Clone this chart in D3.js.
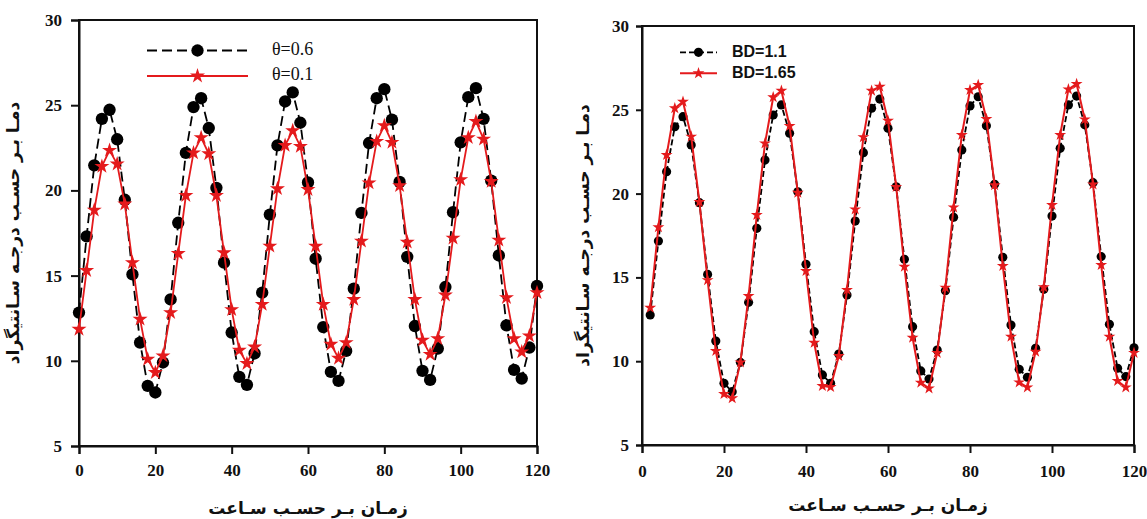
<!DOCTYPE html>
<html>
<head>
<meta charset="utf-8">
<script src="https://cdn.jsdelivr.net/npm/d3@7"></script>
<style>
  html, body { margin: 0; padding: 0; background: #fff; }
  svg { display: block; }
</style>
</head>
<body>
<svg id="chart" width="1147" height="519"></svg>
<script>
// Time axis (hours)
const hoursA = [0,2,4,6,8,10,12,14,16,18,20,22,24,26,28,30,32,34,36,38,40,42,44,46,48,50,52,54,56,58,60,
  62,64,66,68,70,72,74,76,78,80,82,84,86,88,90,92,94,96,98,100,102,104,106,108,110,112,114,116,118,120];
const hoursB = [2,4,6,8,10,12,14,16,18,20,22,24,26,28,30,32,34,36,38,40,42,44,46,48,50,52,54,56,58,60,
  62,64,66,68,70,72,74,76,78,80,82,84,86,88,90,92,94,96,98,100,102,104,106,108,110,112,114,116,118,120];

// Left panel: temperature for two theta values
const theta06 = [12.83,17.3,21.47,24.2,24.73,23.0,19.45,15.07,11.07,8.53,8.14,9.9,13.6,18.1,22.2,24.89,25.41,23.66,20.15,
  15.76,11.66,9.06,8.59,10.43,14.0,18.58,22.64,25.22,25.75,23.97,20.47,15.99,11.98,9.35,8.82,10.58,14.23,18.68,22.78,
  25.41,25.94,24.15,20.5,16.1,12.04,9.41,8.88,10.72,14.33,18.72,22.82,25.47,26.0,24.2,20.57,16.18,12.08,9.47,8.96,10.78,14.39];
const theta01 = [11.85,15.3,18.84,21.41,22.35,21.55,19.2,15.76,12.44,10.09,9.31,10.29,12.83,16.3,19.7,22.2,23.1,22.15,19.7,
  16.34,13.0,10.62,9.84,10.81,13.31,16.73,20.1,22.64,23.5,22.58,20.05,16.73,13.31,10.97,10.15,11.07,13.6,17.02,20.44,
  22.88,23.8,22.82,20.28,16.96,13.6,11.21,10.38,11.3,13.86,17.2,20.63,23.1,24.05,23.01,20.53,17.08,13.71,11.3,10.52,11.46,14.0];

// Right panel: temperature for two bulk densities
const bd110 = [12.76,17.17,21.31,23.99,24.59,22.9,19.46,15.18,11.2,8.68,8.18,9.93,13.51,17.93,22.0,24.69,25.29,23.6,20.11,
  15.78,11.76,9.18,8.68,10.43,13.95,18.36,22.44,25.09,25.64,23.9,20.41,16.08,12.06,9.42,8.94,10.67,14.21,18.59,22.6,
  25.23,25.78,24.05,20.56,16.2,12.16,9.52,9.04,10.77,14.29,18.66,22.7,25.29,25.82,24.1,20.65,16.24,12.2,9.58,9.08,10.8];
const bd165 = [13.19,17.99,22.3,25.09,25.48,23.4,19.5,14.84,10.61,8.04,7.79,9.93,13.89,18.72,23.0,25.75,26.14,24.03,20.05,
  15.38,11.1,8.52,8.46,10.31,14.25,19.06,23.37,26.14,26.38,24.35,20.4,15.64,11.4,8.72,8.38,10.5,14.39,19.18,23.5,
  26.18,26.48,24.45,20.5,15.68,11.46,8.74,8.44,10.57,14.41,19.32,23.5,26.22,26.54,24.43,20.55,15.74,11.46,8.82,8.44,10.5];

const xTicks = [0,20,40,60,80,100,120];
const yTicks = [5,10,15,20,25,30];
const xTitle = "زمـان بـر حسـب سـاعت";
const yTitle = "دمـا بـر حسـب درجـه سـانتیگراد";

const serif = '"Liberation Serif", "Times New Roman", serif';
const arabicFont = '"DejaVu Sans", "Noto Sans", sans-serif';

const svg = d3.select("#chart");

function drawPanel(p) {
  const x = d3.scaleLinear().domain([0, 120]).range([p.left, p.right]);
  const y = d3.scaleLinear().domain([5, 30]).range([p.bottom, p.top]);
  const g = svg.append("g");

  // frame
  g.append("rect")
    .attr("x", p.left).attr("y", p.top)
    .attr("width", p.right - p.left).attr("height", p.bottom - p.top)
    .attr("fill", "none").attr("stroke", "#111").attr("stroke-width", 2);

  const xa = g.append("g").attr("transform", `translate(0,${p.bottom})`)
    .call(d3.axisBottom(x).tickValues(xTicks).tickSize(8).tickPadding(p.xPad).tickFormat(d3.format("d")));
  const ya = g.append("g").attr("transform", `translate(${p.left},0)`)
    .call(d3.axisLeft(y).tickValues(yTicks).tickSize(p.yTick).tickPadding(p.yPad).tickFormat(d3.format("d")));
  [xa, ya].forEach(a => {
    a.attr("font-family", null).attr("font-size", null);
    a.select(".domain").attr("stroke", "#111").attr("stroke-width", 2);
    a.selectAll(".tick line").attr("stroke", "#111").attr("stroke-width", 2);
    a.selectAll(".tick text")
      .style("font-family", serif).style("font-weight", "bold")
      .style("font-size", "17px").attr("fill", "#111");
  });

  // axis titles
  g.append("text")
    .attr("x", (p.left + p.right) / 2).attr("y", p.xTitleY)
    .attr("text-anchor", "middle").attr("dominant-baseline", "middle")
    .attr("direction", "rtl")
    .style("font-family", arabicFont).style("font-weight", "bold").style("font-size", "17px")
    .attr("fill", "#111")
    .text(xTitle);
  g.append("text")
    .attr("transform", `translate(${p.yTitleX},${(p.top + p.bottom) / 2}) rotate(-90)`)
    .attr("text-anchor", "middle").attr("dominant-baseline", "middle")
    .attr("direction", "rtl")
    .style("font-family", arabicFont).style("font-weight", "bold").style("font-size", "17px")
    .attr("fill", "#111")
    .text(yTitle);

  const line = d3.line().x(d => x(d[0])).y(d => y(d[1]));

  p.series.forEach(s => {
    const pts = s.hours.map((h, i) => [h, s.values[i]]);
    g.append("path").datum(pts).attr("d", line)
      .attr("fill", "none").attr("stroke", s.color).attr("stroke-width", s.width)
      .attr("stroke-dasharray", s.dash || null);
    const sym = d3.symbol().type(s.marker === "star" ? d3.symbolStar : d3.symbolCircle).size(s.size);
    g.selectAll(null).data(pts).enter().append("path")
      .attr("d", sym)
      .attr("transform", d => `translate(${x(d[0])},${y(d[1])})`)
      .attr("fill", s.color);
  });

  // legend
  p.series.forEach((s, i) => {
    const ly = p.legend.y[i];
    g.append("line")
      .attr("x1", p.legend.x1).attr("x2", p.legend.x2).attr("y1", ly).attr("y2", ly)
      .attr("stroke", s.color).attr("stroke-width", s.width)
      .attr("stroke-dasharray", s.dash || null);
    const sym = d3.symbol().type(s.marker === "star" ? d3.symbolStar : d3.symbolCircle).size(s.size);
    g.append("path").attr("d", sym)
      .attr("transform", `translate(${(p.legend.x1 + p.legend.x2) / 2},${ly})`)
      .attr("fill", s.color);
    g.append("text")
      .attr("x", p.legend.tx).attr("y", ly)
      .attr("dominant-baseline", "middle")
      .style("font-family", p.legend.font)
      .style("font-weight", p.legend.weight)
      .style("font-size", p.legend.fontSize + "px")
      .attr("fill", "#111")
      .text(s.label);
  });
}

drawPanel({
  left: 79, right: 537, top: 20, bottom: 446,
  yTick: 8, yPad: 9, xPad: 10,
  xTitleY: 509, yTitleX: 14,
  legend: { x1: 147, x2: 248, y: [50.5, 76], tx: 272, font: serif, weight: "normal", fontSize: 18 },
  series: [
    { label: "θ=0.6", hours: hoursA, values: theta06, color: "#000", width: 1.8, dash: "10,5", marker: "circle", size: 120 },
    { label: "θ=0.1", hours: hoursA, values: theta01, color: "#e41a1c", width: 1.8, marker: "star", size: 70 }
  ]
});

drawPanel({
  left: 642, right: 1134, top: 26, bottom: 445,
  yTick: 6, yPad: 7, xPad: 12,
  xTitleY: 506, yTitleX: 584,
  legend: { x1: 680, x2: 717, y: [52.3, 73.3], tx: 732, font: '"Liberation Sans", Arial, sans-serif', weight: "bold", fontSize: 16 },
  series: [
    { label: "BD=1.1", hours: hoursB, values: bd110, color: "#000", width: 1.8, dash: "6,3", marker: "circle", size: 66 },
    { label: "BD=1.65", hours: hoursB, values: bd165, color: "#e41a1c", width: 2, marker: "star", size: 44 }
  ]
});
</script>
</body>
</html>
